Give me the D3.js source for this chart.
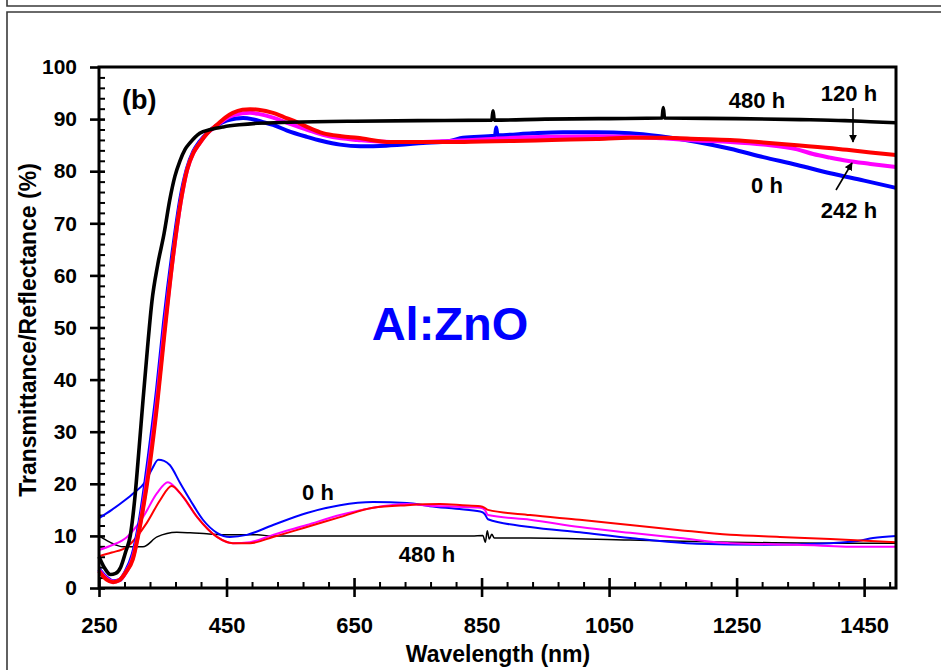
<!DOCTYPE html>
<html>
<head>
<meta charset="utf-8">
<script src="https://cdn.jsdelivr.net/npm/d3@7"></script>
<style>
  html, body { margin: 0; padding: 0; background: #fff; }
  svg { display: block; }
  text { font-family: Arial, "Liberation Sans", sans-serif; font-weight: bold; }
</style>
</head>
<body>
<svg id="chart" width="941" height="670"></svg>
<script>
// Wavelength (nm) / percent pairs for each aging time.
// Transmittance curves (thick)
const transBlue0h = [
  [250,3.6],[262,2.0],[272,1.3],[282,1.5],[292,3.2],[303,6.5],[314,13],[330,27],[341,38],[352,51],
  [366,65],[378,75],[388,80.5],[398,83.8],[408,85.7],[422,87.6],[435,88.8],[450,89.7],[465,90.1],
  [476,90.2],[490,90.0],[505,89.5],[523,88.9],[545,87.8],[576,86.6],[600,85.8],[628,85.1],[660,84.8],
  [700,84.9],[758,85.4],[800,85.8],[821,86.4],[871,86.8],[873,88.4],[875,86.9],[930,87.3],[978,87.5],
  [1030,87.5],[1083,87.3],[1130,86.7],[1188,85.6],[1240,84.3],[1292,82.7],[1345,81.2],[1397,79.6],
  [1450,78.2],[1500,76.8]
];
const transMagenta120h = [
  [250,3.4],[262,1.8],[272,1.2],[282,1.5],[292,3.0],[303,5.8],[314,12],[330,25],[341,36],[352,49],
  [366,63.5],[378,74],[388,80.2],[398,83.5],[408,85.4],[420,87.3],[435,88.8],[448,90.0],[460,90.7],
  [475,91.1],[487,91.2],[500,91.0],[523,90.3],[545,89.3],[561,88.6],[580,87.8],[601,87.0],[630,86.3],
  [655,86.0],[707,85.6],[758,85.6],[800,85.8],[850,86.1],[900,86.4],[960,86.6],[1030,86.7],[1083,86.6],
  [1135,86.3],[1188,85.9],[1240,85.6],[1292,85.1],[1345,84.2],[1370,83.3],[1397,82.6],[1423,82.0],
  [1460,81.4],[1500,80.8]
];
const transRed242h = [
  [250,3.2],[262,1.6],[272,1.1],[282,1.5],[292,3.0],[303,5.5],[314,11.7],[330,24],[341,35],[352,48],
  [366,63.5],[378,74],[388,80.2],[398,83.5],[408,85.4],[420,87.3],[435,88.9],[448,90.3],[460,91.2],
  [475,91.8],[487,91.9],[500,91.8],[523,91.2],[540,90.4],[561,89.4],[580,88.3],[601,87.3],[630,86.7],
  [655,86.4],[707,85.6],[758,85.6],[800,85.6],[850,85.7],[900,85.8],[960,86.0],[1030,86.2],[1083,86.4],
  [1135,86.4],[1190,86.2],[1240,86.0],[1292,85.5],[1345,85.0],[1400,84.4],[1423,84.1],[1460,83.6],
  [1500,83.1]
];
const transBlack480h = [
  [250,6.0],[258,4.0],[268,2.6],[276,2.8],[284,4.0],[292,7.0],[299,10],[306,17],[313,27],[319,36],
  [326,46],[333,55],[342,62],[352,68],[361,74.5],[369,79],[377,82],[385,84.2],[393,85.5],[408,87.3],
  [425,88.0],[445,88.5],[470,88.9],[498,89.2],[550,89.4],[650,89.6],[750,89.7],[866,89.8],[868,91.6],
  [870,89.8],[950,90.0],[1050,90.1],[1133,90.2],[1135,92.2],[1137,90.2],[1250,90.1],[1350,89.9],
  [1420,89.7],[1460,89.5],[1500,89.3]
];

// Reflectance curves (thin)
const reflBlue0h = [
  [250,13.4],[270,15.0],[290,16.8],[305,18.3],[322,20.3],[333,22.8],[343,24.6],[352,24.4],[361,23.6],
  [377,20.2],[393,16.9],[413,13.1],[435,10.6],[455,9.8],[482,10.2],[523,12.1],[576,14.4],[628,15.9],
  [680,16.5],[733,16.3],[769,15.7],[810,15.2],[848,14.7],[855,14.2],[860,13.2],[926,11.7],[1004,10.7],
  [1083,9.6],[1188,8.5],[1292,8.3],[1397,8.6],[1440,9.0],[1464,9.6],[1500,10.0]
];
const reflMagenta120h = [
  [250,7.3],[270,8.2],[294,9.8],[319,13.6],[341,18.2],[358,20.3],[377,18.2],[404,13.6],[435,9.8],
  [460,8.6],[487,8.8],[523,10.2],[576,12.1],[628,14.0],[680,15.4],[733,16.1],[769,15.8],[810,15.6],
  [848,15.4],[855,15.0],[860,14.0],[926,13.1],[1004,11.7],[1083,10.6],[1161,9.6],[1240,8.6],[1345,8.3],
  [1449,7.9],[1500,7.9]
];
const reflRed242h = [
  [250,6.1],[270,6.8],[294,7.9],[325,12.5],[346,16.9],[364,19.6],[382,17.5],[404,13.6],[435,9.8],
  [460,8.6],[487,8.6],[523,9.8],[576,11.7],[628,13.6],[680,15.4],[733,15.9],[785,16.1],[820,15.9],
  [848,15.7],[855,15.4],[860,15.0],[926,14.0],[1004,13.1],[1083,12.1],[1161,11.1],[1240,10.2],
  [1318,9.8],[1397,9.4],[1500,8.8]
];
const reflBlack480h = [
  [250,10.0],[267,8.8],[288,7.9],[319,7.9],[341,9.8],[372,10.7],[393,10.6],[419,10.4],[455,10.2],
  [498,10.2],[520,10.0],[835,10.0],[852,10.1],[856,8.8],[859,11.0],[862,9.4],[866,10.3],[870,9.6],
  [926,9.6],[1083,9.2],[1240,8.8],[1397,8.6],[1500,8.6]
];

const xTicks = [250, 450, 650, 850, 1050, 1250, 1450];
const yTicks = [0, 10, 20, 30, 40, 50, 60, 70, 80, 90, 100];

const svg = d3.select("#chart");

// Outer panel frame
const frame = svg.append("g").attr("fill", "none").attr("stroke", "#3a3a3a").attr("stroke-width", 1.6);
frame.append("path").attr("d", "M7,0 V6 H941");
frame.append("path").attr("d", "M941,12 H7 V670");

const plotL = 99, plotR = 896, plotT = 67, plotB = 588;
const x = d3.scaleLinear().domain([250, 1500]).range([plotL, plotR]);
const y = d3.scaleLinear().domain([0, 100]).range([plotB, plotT]);

const minorX = d3.range(250, 1500, 40).filter(v => !xTicks.includes(v));
const minorY = d3.range(0, 101, 2).filter(v => v % 10 !== 0);
const labelFont = "Arial, 'Liberation Sans', sans-serif";

// Minor ticks (inward)
svg.append("g").attr("transform", `translate(0,${plotB})`)
  .call(d3.axisBottom(x).tickValues(minorX).tickSize(-6).tickFormat(""))
  .call(g => g.select(".domain").remove())
  .call(g => g.selectAll("line").attr("stroke-width", 2));
svg.append("g").attr("transform", `translate(${plotL},0)`)
  .call(d3.axisLeft(y).tickValues(minorY).tickSize(-6).tickFormat(""))
  .call(g => g.select(".domain").remove())
  .call(g => g.selectAll("line").attr("stroke-width", 2));

// Major ticks, inward part
svg.append("g").attr("transform", `translate(0,${plotB})`)
  .call(d3.axisBottom(x).tickValues(xTicks).tickSize(-10).tickFormat(""))
  .call(g => g.select(".domain").remove())
  .call(g => g.selectAll("line").attr("stroke-width", 2.6));
svg.append("g").attr("transform", `translate(${plotL},0)`)
  .call(d3.axisLeft(y).tickValues(yTicks.slice(0, -1)).tickSize(-6).tickFormat(""))
  .call(g => g.select(".domain").remove())
  .call(g => g.selectAll("line").attr("stroke-width", 2.6));

// Major ticks outward with labels
svg.append("g").attr("transform", `translate(0,${plotB})`)
  .call(d3.axisBottom(x).tickValues(xTicks).tickSize(9).tickPadding(20).tickFormat(d3.format("d")))
  .call(g => g.select(".domain").remove())
  .call(g => g.selectAll("line").attr("stroke-width", 2.6))
  .call(g => g.selectAll("text").attr("font-size", 22).attr("font-family", labelFont).attr("font-weight", "bold").attr("fill", "#000"));
svg.append("g").attr("transform", `translate(${plotL},0)`)
  .call(d3.axisLeft(y).tickValues(yTicks).tickSize(9).tickPadding(13).tickFormat(d3.format("d")))
  .call(g => g.select(".domain").remove())
  .call(g => g.selectAll("line").attr("stroke-width", 2.6))
  .call(g => g.selectAll("text").attr("font-size", 21).attr("font-family", labelFont).attr("font-weight", "bold").attr("fill", "#000"));

// Plot series
const line = d3.line().x(d => x(d[0])).y(d => y(d[1])).curve(d3.curveMonotoneX);
const series = [
  { data: reflBlack480h, color: "#000000", width: 1.5 },
  { data: reflBlue0h, color: "#0000ff", width: 2 },
  { data: reflMagenta120h, color: "#ff00ff", width: 2 },
  { data: reflRed242h, color: "#ff0000", width: 2 },
  { data: transBlue0h, color: "#0000ff", width: 4 },
  { data: transMagenta120h, color: "#ff00ff", width: 4 },
  { data: transRed242h, color: "#ff0000", width: 4 },
  { data: transBlack480h, color: "#000000", width: 3.6 }
];
const plot = svg.append("g");
plot.selectAll("path").data(series).join("path")
  .attr("d", d => line(d.data))
  .attr("fill", "none")
  .attr("stroke", d => d.color)
  .attr("stroke-width", d => d.width)
  .attr("stroke-linejoin", "round");

// Plot box
svg.append("rect").attr("x", plotL).attr("y", plotT).attr("width", plotR - plotL).attr("height", plotB - plotT)
  .attr("fill", "none").attr("stroke", "#000").attr("stroke-width", 3);

// Axis titles
svg.append("text").attr("x", 498).attr("y", 662).attr("text-anchor", "middle")
  .attr("font-size", 23).text("Wavelength (nm)");
svg.append("text").attr("transform", "translate(36,330) rotate(-90)").attr("text-anchor", "middle")
  .attr("font-size", 23).text("Transmittance/Reflectance (%)");

// Annotations
svg.append("text").attr("x", 122).attr("y", 109).attr("font-size", 27).text("(b)");
svg.append("text").attr("x", 450).attr("y", 340).attr("text-anchor", "middle")
  .attr("font-size", 47).attr("fill", "#0000ff").text("Al:ZnO");

const notes = [
  { t: "480 h", x: 757, y: 108 },
  { t: "120 h", x: 849, y: 101 },
  { t: "0 h", x: 767, y: 193 },
  { t: "242 h", x: 849, y: 218 },
  { t: "0 h", x: 318, y: 500 },
  { t: "480 h", x: 427, y: 562 }
];
svg.append("g").selectAll("text").data(notes).join("text")
  .attr("x", d => d.x).attr("y", d => d.y).attr("text-anchor", "middle")
  .attr("font-size", 22).text(d => d.t);

// Arrows pointing to the 120 h and 242 h transmittance curves
svg.append("defs").append("marker").attr("id", "head")
  .attr("viewBox", "0 0 10 10").attr("refX", 9).attr("refY", 5)
  .attr("markerWidth", 5).attr("markerHeight", 5).attr("orient", "auto")
  .append("path").attr("d", "M0,0 L10,5 L0,10 z").attr("fill", "#000");
svg.append("line").attr("x1", 853).attr("y1", 108).attr("x2", 853).attr("y2", 142)
  .attr("stroke", "#000").attr("stroke-width", 1.6).attr("marker-end", "url(#head)");
svg.append("line").attr("x1", 836).attr("y1", 190).attr("x2", 852).attr("y2", 163)
  .attr("stroke", "#000").attr("stroke-width", 1.6).attr("marker-end", "url(#head)");
</script>
</body>
</html>
